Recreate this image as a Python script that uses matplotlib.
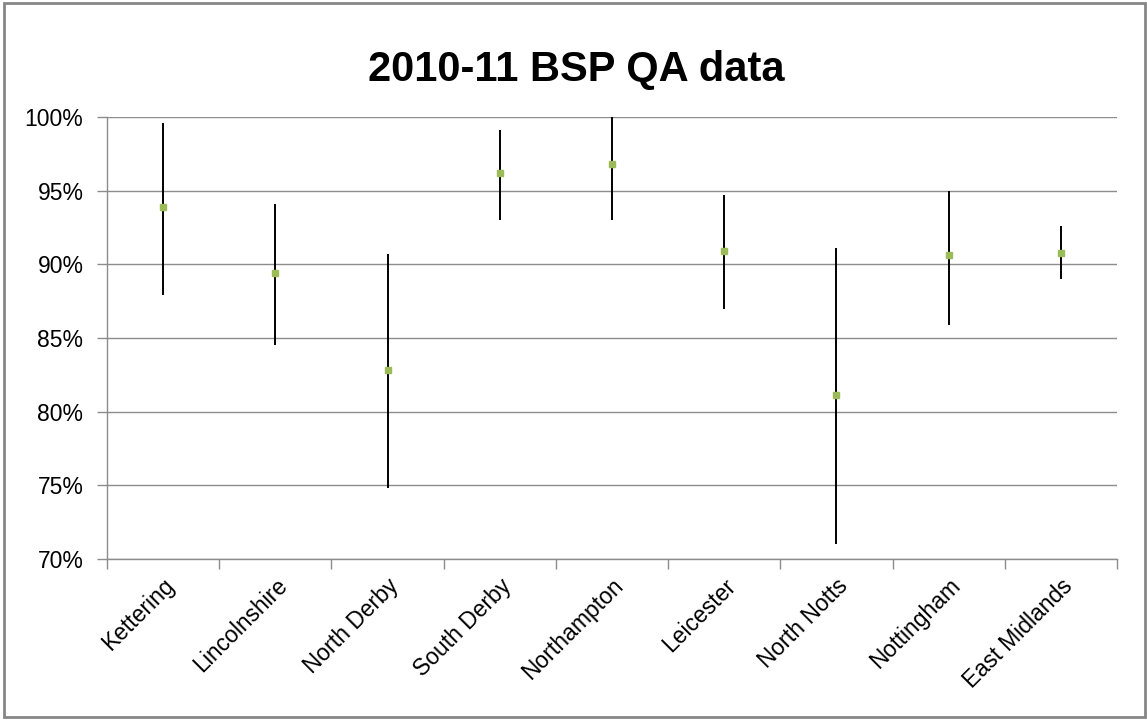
import numpy as np
import matplotlib.pyplot as plt
from matplotlib.patches import Rectangle
from matplotlib.ticker import FuncFormatter

plt.rcParams['font.family'] = ['Liberation Sans', 'DejaVu Sans']

sites = ['Kettering', 'Lincolnshire', 'North Derby', 'South Derby', 'Northampton',
         'Leicester', 'North Notts', 'Nottingham', 'East Midlands']
upper = [0.996, 0.941, 0.907, 0.991, 1.000, 0.947, 0.911, 0.950, 0.926]
mid = [0.939, 0.894, 0.828, 0.962, 0.968, 0.909, 0.811, 0.906, 0.908]
lower = [0.879, 0.845, 0.748, 0.930, 0.930, 0.870, 0.710, 0.859, 0.890]

grid_col = '#8c8c8c'

fig = plt.figure(figsize=(11.47, 7.2), dpi=100)
ax = fig.add_axes([107 / 1147, 1 - 559 / 720, 1010 / 1147, 442 / 720])

x = np.arange(len(sites))
ax.vlines(x, lower, upper, color='black', lw=1.4, zorder=3)
ax.plot(x, mid, ls='none', marker='s', ms=4, color='#9BBB59', mec='#9BBB59', zorder=4)

ax.set_xlim(-0.5, len(sites) - 0.5)
ax.set_ylim(0.70, 1.00)
ax.set_yticks(np.arange(0.70, 1.001, 0.05))
ax.yaxis.set_major_formatter(FuncFormatter(lambda v, p: f'{v * 100:.0f}%'))
ax.grid(axis='y', color=grid_col, lw=1)
ax.set_axisbelow(True)

ax.set_xticks(x)
ax.set_xticklabels(sites, rotation=45, ha='right', va='top', rotation_mode='anchor')
ax.set_xticks(np.arange(-0.5, len(sites), 1), minor=True)
ax.tick_params(axis='x', which='major', length=0, pad=11, labelsize=16.5)
ax.tick_params(axis='x', which='minor', length=7, color=grid_col, width=1)
ax.tick_params(axis='y', length=7, color=grid_col, width=1, pad=10, labelsize=16.5)

for s in ['top', 'right']:
    ax.spines[s].set_visible(False)
for s in ['left', 'bottom']:
    ax.spines[s].set_color(grid_col)
    ax.spines[s].set_linewidth(1)

fig.text(576 / 1147, 1 - 81 / 720, '2010-11 BSP QA data', ha='center', va='baseline',
         fontsize=30, fontweight='bold')

fig.patches.append(Rectangle((4 / 1147, 3 / 720), 1141 / 1147, 714 / 720,
                             transform=fig.transFigure, fill=False,
                             edgecolor='#868686', lw=2))

fig.savefig('out.png', dpi=100)
